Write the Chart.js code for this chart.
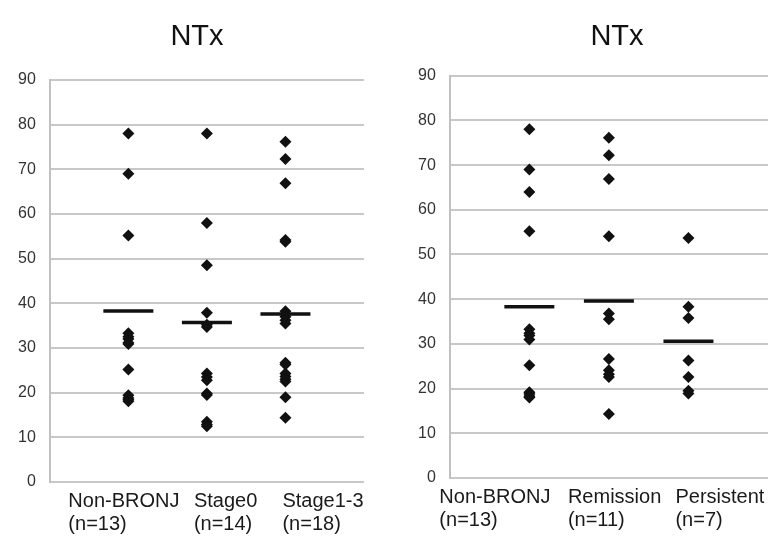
<!DOCTYPE html>
<html>
<head>
<meta charset="utf-8">
<script src="https://cdn.jsdelivr.net/npm/chart.js@4"></script>
<style>
  body { margin: 0; background: #fff; }
  .panel { position: absolute; top: 0; }
</style>
</head>
<body>
<div class="panel" style="left:0px"><canvas id="leftChart" width="390" height="551"></canvas></div>
<div class="panel" style="left:390px"><canvas id="rightChart" width="393" height="551"></canvas></div>
<script>
// NTx values

const leftGroups = ['Non-BRONJ', 'Stage0', 'Stage1-3'];
const leftCounts = ['(n=13)', '(n=14)', '(n=18)'];
const leftNonBronj = [78, 69, 55.2, 33.3, 32.5, 32, 31.2, 30.9, 25.2, 19.4, 18.8, 18.4, 18.1];
const leftStage0 = [78, 58, 48.5, 37.9, 35.2, 34.7, 24.3, 23.5, 22.8, 19.8, 19.5, 13.5, 12.9, 12.5];
const leftStage13 = [76.2, 72.3, 66.9, 54.2, 53.8, 38.2, 37.6, 37.0, 36.2, 35.5, 26.7, 26.3, 24.3, 23.6, 23.0, 22.5, 19.0, 14.4];
const leftMeans = [38.3, 35.7, 37.6];

const rightGroups = ['Non-BRONJ', 'Remission', 'Persistent'];
const rightCounts = ['(n=13)', '(n=11)', '(n=7)'];
const rightNonBronj = [78, 69, 64, 55.2, 33.3, 32.4, 31.9, 31.0, 25.2, 19.2, 18.8, 18.3, 18.0];
const rightRemission = [76.1, 72.2, 66.9, 54.1, 36.8, 35.5, 26.6, 24.1, 23.2, 22.6, 14.3];
const rightPersistent = [53.7, 38.3, 35.8, 26.3, 22.6, 19.5, 18.9];
const rightMeans = [38.3, 39.6, 30.6];

const FONT = "'Liberation Sans', Arial, sans-serif";

// category labels are left aligned text boxes, shifted from the column centre
const categoryLabels = {
  id: 'categoryLabels',
  afterLayout(chart, args, opts) {
    // the title sits a bit right of centre in the original
    const t = chart.titleBlock;
    t.left += opts.titleShift;
    t.right += opts.titleShift;
  },
  afterDraw(chart, args, opts) {
    const ctx = chart.ctx;
    const x = chart.scales.x;
    const bottom = chart.chartArea.bottom;
    ctx.save();
    ctx.fillStyle = '#1a1a1a';
    ctx.font = '20px ' + FONT;
    ctx.textAlign = 'left';
    ctx.textBaseline = 'alphabetic';
    opts.groups.forEach((g, i) => {
      const px = x.getPixelForValue(i + 1) + opts.offsets[i];
      ctx.fillText(g, px, bottom + 25);
      ctx.fillText(opts.counts[i], px, bottom + 48);
    });
    ctx.restore();
  }
};

function makeChart(id, groups, counts, series, means, offsets, pad, titlePad, titleShift) {
  const datasets = series.map((vals, i) => ({
    data: vals.map(v => ({ x: i + 1, y: v })),
    pointStyle: 'rectRot',
    pointRadius: 6,
    pointBorderWidth: 0,
    backgroundColor: '#111',
    borderColor: '#111',
    order: 1
  }));
  datasets.push({
    data: means.map((m, i) => ({ x: i + 1, y: m })),
    pointStyle: 'line',
    pointRadius: 25,
    pointBorderWidth: 3.5,
    borderColor: '#111',
    backgroundColor: '#111',
    order: 0
  });

  return new Chart(document.getElementById(id), {
    type: 'scatter',
    data: { datasets },
    options: {
      responsive: false,
      animation: false,
      layout: { padding: pad, autoPadding: false },
      plugins: {
        legend: { display: false },
        tooltip: { enabled: false },
        title: {
          display: true,
          text: 'NTx',
          color: '#111',
          font: { family: FONT, size: 29, weight: 'normal' },
          padding: titlePad
        },
        categoryLabels: { groups, counts, offsets, titleShift }
      },
      scales: {
        x: { type: 'linear', min: 0, max: 4, display: false },
        y: {
          min: 0,
          max: 90,
          ticks: {
            stepSize: 10,
            padding: 14,
            color: '#333',
            font: { family: FONT, size: 16 }
          },
          grid: { color: '#c8c8c8', lineWidth: 2, drawTicks: false },
          border: { color: '#c0c0c0', width: 2 }
        }
      }
    },
    plugins: [categoryLabels]
  });
}

makeChart('leftChart', leftGroups, leftCounts,
  [leftNonBronj, leftStage0, leftStage13], leftMeans,
  [-60, -13, -3],
  { left: 4, right: 26, top: 0, bottom: 69 },
  { top: 19.5, bottom: 25.7 }, 13);

makeChart('rightChart', rightGroups, rightCounts,
  [rightNonBronj, rightRemission, rightPersistent], rightMeans,
  [-90, -41, -13],
  { left: 14, right: 15, top: 0, bottom: 73 },
  { top: 19.5, bottom: 21.4 }, 31);
</script>
</body>
</html>
